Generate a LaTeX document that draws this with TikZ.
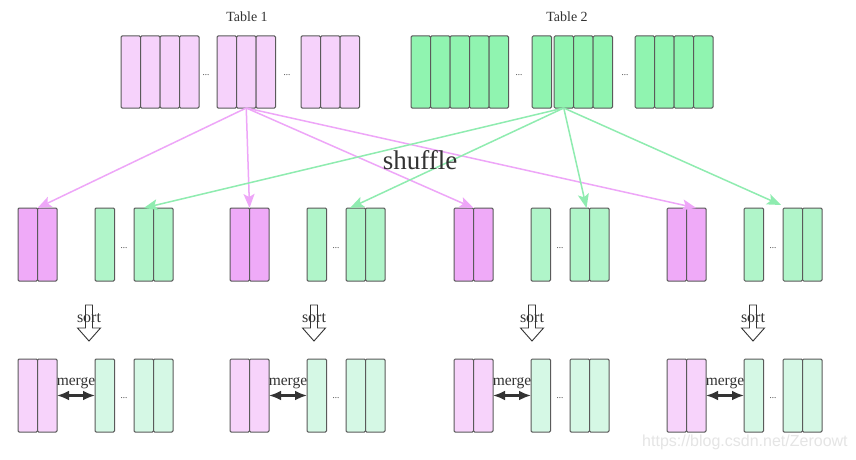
\documentclass[tikz,border=0pt]{standalone}
\usepackage{fontspec}
\setmainfont{Liberation Serif}
\newfontfamily\wmfont{Liberation Sans}
\usetikzlibrary{arrows.meta,calc}
\definecolor{pinkA}{HTML}{F6D2FB}
\definecolor{pinkB}{HTML}{EFAAF8}
\definecolor{pinkC}{HTML}{F7D3FB}
\definecolor{greenA}{HTML}{90F4B0}
\definecolor{greenB}{HTML}{B0F5C9}
\definecolor{greenC}{HTML}{D5F8E5}
\definecolor{edgegray}{HTML}{5A5A5A}
\definecolor{pinkline}{HTML}{EEA6F8}
\definecolor{greenline}{HTML}{8FECB0}
\definecolor{darkarrow}{HTML}{333333}
\tikzset{
  colbox/.style={draw=edgegray, line width=1pt, rounded corners=1.2pt, minimum width=19.5pt,
    inner sep=0pt, outer sep=0pt, anchor=north west},
  dots/.style={font=\fontsize{9}{10}\selectfont, text=darkarrow, inner sep=0pt},
  title/.style={font=\fontsize{14}{16}\selectfont, text=darkarrow},
  shufflearrow/.style={line width=1.5pt, -{Stealth[length=14pt,width=11pt,inset=3pt]}},
  sortarrow/.style={draw=darkarrow, line width=0.9pt, fill=white, line join=miter},
  sortlabel/.style={font=\fontsize{16}{18}\selectfont, text=darkarrow, inner sep=0pt},
  mergearrow/.style={draw=darkarrow, line width=2.5pt,
    {Latex[length=12pt,width=10pt]}-{Latex[length=12pt,width=10pt]}},
  mergelabel/.style={font=\fontsize{15.5}{17}\selectfont, text=darkarrow, inner sep=0pt},
}
% name, x, y, number of columns, fill, height
\newcommand\cgrp[6]{%
  \foreach \i in {1,...,#4}{
    \node[colbox, fill=#5, minimum height=#6] (#1-\i) at ({#2+(\i-1)*19.5}, #3) {};
  }%
}
\begin{document}
\begin{tikzpicture}[x=1pt,y=-1pt]
\fill[white] (0,0) rectangle (856,460);
\useasboundingbox (0,0) rectangle (856,460);

% ---- top tables
\node[title] (t1) at (247,17) {Table 1};
\node[title] (t2) at (567,17) {Table 2};
\cgrp{ta}{121}{36}{4}{pinkA}{72pt}
\cgrp{tb}{217}{36}{3}{pinkA}{72pt}
\cgrp{tc}{301}{36}{3}{pinkA}{72pt}
\node[dots] (td1) at (206,75) {...};
\node[dots] (td2) at (287,75) {...};
\cgrp{ua}{411}{36}{5}{greenA}{72pt}
\cgrp{ub}{532}{36}{1}{greenA}{72pt}
\cgrp{uc}{554}{36}{3}{greenA}{72pt}
\cgrp{ud}{635}{36}{4}{greenA}{72pt}
\node[dots] (ud1) at (519,75) {...};
\node[dots] (ud2) at (625,75) {...};

% ---- middle and bottom rows
\foreach \g/\xo/\sx in {1/18/89, 2/230/314, 3/454/532, 4/667/753}{
  \cgrp{mp\g}{\xo}{208}{2}{pinkB}{73pt}
  \cgrp{ms\g}{\xo+77}{208}{1}{greenB}{73pt}
  \cgrp{md\g}{\xo+116}{208}{2}{greenB}{73pt}
  \node[dots] (mdot\g) at ({\xo+106},248) {...};
  \cgrp{bp\g}{\xo}{359}{2}{pinkC}{73pt}
  \cgrp{bs\g}{\xo+77}{359}{1}{greenC}{73pt}
  \cgrp{bd\g}{\xo+116}{359}{2}{greenC}{73pt}
  \node[dots] (bdot\g) at ({\xo+106},398) {...};
  % sort arrow
  \draw[sortarrow] ({\sx-3.5},305) -- ({\sx+3.5},305) -- ({\sx+3.5},328) -- ({\sx+11.5},328)
     -- (\sx,341) -- ({\sx-11.5},328) -- ({\sx-3.5},328) -- cycle;
  \node[sortlabel] (sort\g) at (\sx,318) {sort};
  % merge
  \draw[mergearrow] (bp\g-2.east) -- (bs\g-1.west);
  \node[mergelabel] (merge\g) at ($(bp\g-2.east)!0.5!(bs\g-1.west)+(0,-12)$) {merge};
}

% ---- shuffle arrows
\foreach \t in {mp1-1.north east, mp2-1.north east, mp3-1.north east, mp4-2.north}{
  \draw[shufflearrow, draw=pinkline, fill=pinkline] (tb-2.south) -- (\t);
}
\draw[shufflearrow, draw=greenline, fill=greenline] (uc-1.south) -- (md1-1.north);
\draw[shufflearrow, draw=greenline, fill=greenline] (uc-1.south) -- ($(md2-1.north west)+(4,0)$);
\draw[shufflearrow, draw=greenline, fill=greenline] (uc-1.south) -- ($(md3-1.north east)+(-3,0)$);
\draw[shufflearrow, draw=greenline, fill=greenline] (uc-1.south) -- ($(md4-1.north west)+(-2,-3)$);

\node[font=\fontsize{27}{30}\selectfont, text=darkarrow, inner sep=0pt] (shuffle) at (420,160) {shuffle};

% ---- watermark
\node[font=\wmfont\fontsize{16}{18}\selectfont, text=black!10, anchor=west, inner sep=0pt] (wm) at (642,442) {https://blog.csdn.net/Zeroowt};
\end{tikzpicture}
\end{document}
